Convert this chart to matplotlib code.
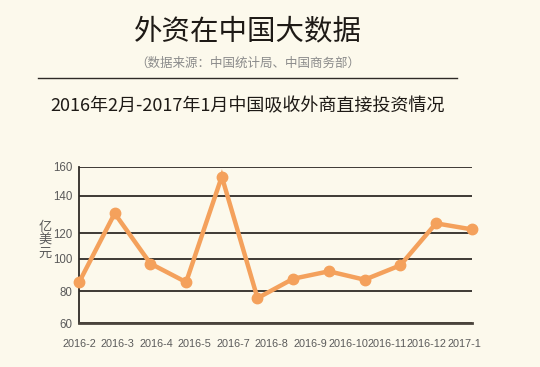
import matplotlib.pyplot as plt
import numpy as np

plt.rcParams["font.family"] = ["Noto Sans CJK SC", "DejaVu Sans"]

# monthly FDI into China, 100 million USD
values = [85.3, 130.6, 97.0, 85.5, 153.2, 75.6, 87.6, 92.2, 87.0, 95.9, 125.3, 122.1]
tick_labels = ["2016-2", "2016-3", "2016-4", "2016-5", "2016-7", "2016-8",
               "2016-9", "2016-10", "2016-11", "2016-12", "2017-1"]
yticks = [60, 80, 100, 120, 140, 160]

# the printed value axis is not evenly spaced; map it piecewise
grid_pos = [0.0, 32.3, 64.6, 90.0, 127.6, 156.6]


def forward(v):
    return np.interp(v, yticks, grid_pos)


def inverse(p):
    return np.interp(p, grid_pos, yticks)


bg = "#fcf9ec"
orange = "#f4a15c"

fig = plt.figure(figsize=(5.4, 3.67), dpi=100, facecolor=bg)
ax = fig.add_axes([0.1463, 0.119, 0.7272, 0.4268], facecolor=bg)

x = np.arange(len(values))
ax.plot(x, values, color=orange, lw=3.2, marker="o", ms=7.5,
        solid_joinstyle="miter", clip_on=False, zorder=3)

ax.set_yscale("function", functions=(forward, inverse))
ax.set_ylim(60, 160)
ax.set_yticks(yticks)
ax.set_xlim(0, len(values) - 1)
ax.set_xticks(np.linspace(0, 10.8, len(tick_labels)))
ax.set_xticklabels(tick_labels)

ax.yaxis.grid(True, color="#2e2a26", lw=1.3)
ax.set_axisbelow(True)
for side in ("top", "right"):
    ax.spines[side].set_visible(False)
ax.spines["left"].set_color("#2e2a26")
ax.spines["left"].set_linewidth(1.3)
ax.spines["bottom"].set_color("#4a443c")
ax.spines["bottom"].set_linewidth(2)

ax.tick_params(length=0, colors="#5a5a5a")
ax.tick_params(axis="y", pad=5, labelsize=8.3)
ax.tick_params(axis="x", pad=11, labelsize=7.8)
for lab in ax.get_xticklabels() + ax.get_yticklabels():
    lab.set_family(["Liberation Sans", "DejaVu Sans"])

fig.text(0.083, 0.346, "亿\n美\n元", ha="center", va="center",
         fontsize=9.5, color="#5a5a5a", linespacing=1.0)

fig.text(0.46, 0.914, "外资在中国大数据", ha="center", va="center",
         fontsize=20.5, color="#1e1a16")
fig.text(0.458, 0.828, "（数据来源：中国统计局、中国商务部）", ha="center",
         va="center", fontsize=9, color="#8a8a8a")
fig.add_artist(plt.Line2D([0.070, 0.846], [0.787, 0.787], color="#2e2a26",
                          lw=1.0, transform=fig.transFigure))
fig.text(0.458, 0.709, "2016年2月-2017年1月中国吸收外商直接投资情况",
         ha="center", va="center", fontsize=13, color="#1e1a16")

fig.savefig("out.png", dpi=100, facecolor=bg)
